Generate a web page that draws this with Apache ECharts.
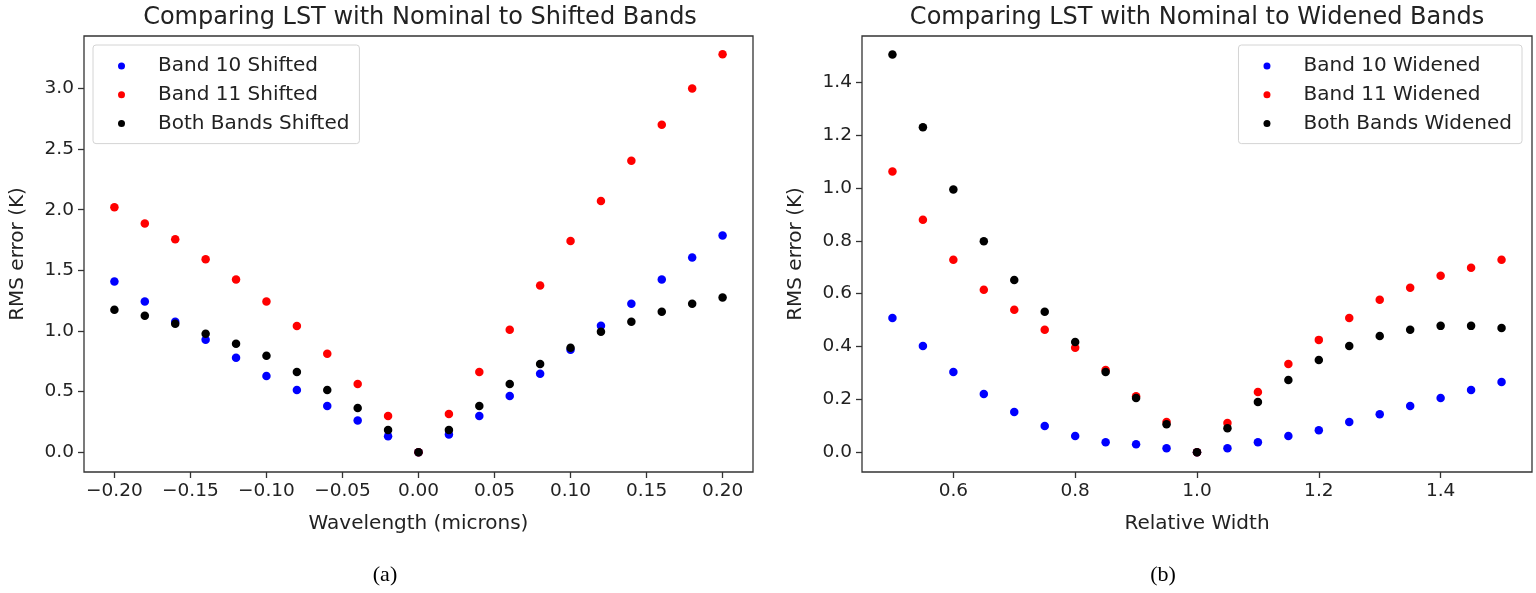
<!DOCTYPE html>
<html>
<head>
<meta charset="utf-8">
<script src="https://cdn.jsdelivr.net/npm/echarts@6/dist/echarts.min.js"></script>
<style>
  html, body { margin: 0; padding: 0; background: #fff; }
  #chart { width: 1536px; height: 593px; }
</style>
</head>
<body>
<div id="chart"></div>
<script>
// (a) band centre shifts, in microns
const shiftX = [-0.20, -0.18, -0.16, -0.14, -0.12, -0.10, -0.08, -0.06, -0.04, -0.02, 0.00,
                0.02, 0.04, 0.06, 0.08, 0.10, 0.12, 0.14, 0.16, 0.18, 0.20];
const band10Shifted = [1.407, 1.242, 1.076, 0.927, 0.778, 0.629, 0.513, 0.381, 0.262, 0.132, 0.0,
                       0.146, 0.298, 0.464, 0.646, 0.844, 1.043, 1.225, 1.424, 1.606, 1.788];
const band11Shifted = [2.020, 1.887, 1.757, 1.592, 1.425, 1.242, 1.040, 0.811, 0.563, 0.298, 0.0,
                       0.315, 0.662, 1.010, 1.374, 1.741, 2.072, 2.403, 2.701, 3.000, 3.283];
const bothShifted   = [1.175, 1.126, 1.060, 0.977, 0.894, 0.795, 0.662, 0.513, 0.364, 0.182, 0.0,
                       0.182, 0.381, 0.563, 0.728, 0.861, 0.993, 1.076, 1.159, 1.225, 1.275];

// (b) relative band widths
const widthX = [0.50, 0.55, 0.60, 0.65, 0.70, 0.75, 0.80, 0.85, 0.90, 0.95, 1.00,
                1.05, 1.10, 1.15, 1.20, 1.25, 1.30, 1.35, 1.40, 1.45, 1.50];
const band10Widened = [0.508, 0.402, 0.303, 0.220, 0.152, 0.099, 0.061, 0.038, 0.030, 0.015, 0.0,
                       0.015, 0.038, 0.061, 0.083, 0.114, 0.144, 0.175, 0.205, 0.235, 0.266];
const band11Widened = [1.062, 0.880, 0.728, 0.615, 0.539, 0.463, 0.395, 0.311, 0.212, 0.114, 0.0,
                       0.110, 0.228, 0.334, 0.425, 0.508, 0.577, 0.622, 0.668, 0.698, 0.728];
const bothWidened   = [1.505, 1.230, 0.994, 0.798, 0.652, 0.531, 0.417, 0.303, 0.205, 0.106, 0.0,
                       0.091, 0.190, 0.273, 0.349, 0.402, 0.440, 0.463, 0.478, 0.478, 0.470];

// tick positions
const shiftTicksX = [-0.20, -0.15, -0.10, -0.05, 0.00, 0.05, 0.10, 0.15, 0.20];
const shiftTicksY = [0.0, 0.5, 1.0, 1.5, 2.0, 2.5, 3.0];
const widthTicksX = [0.6, 0.8, 1.0, 1.2, 1.4];
const widthTicksY = [0.0, 0.2, 0.4, 0.6, 0.8, 1.0, 1.2, 1.4];

const FONT = 'DejaVu Sans';
const AXIS_COLOR = '#333';
const TICK_FS = 18.5;
const LABEL_FS = 20;

function pairs(xs, ys) { return xs.map((x, i) => [x, ys[i]]); }
function fmt(d) {
  return v => (v < 0 ? '\u2212' : '') + Math.abs(v).toFixed(d);
}

function valueAxis(gridIndex, min, max, ticks, decimals, name, extra) {
  return Object.assign({
    type: 'value', gridIndex, min, max,
    name, nameLocation: 'middle',
    nameTextStyle: { fontFamily: FONT, fontSize: LABEL_FS, color: '#222' },
    splitLine: { show: false },
    axisLine: { show: false, onZero: false },
    axisTick: { show: true, inside: false, length: 6, customValues: ticks,
                lineStyle: { color: AXIS_COLOR, width: 1.3 } },
    axisLabel: { customValues: ticks, formatter: fmt(decimals), margin: 10,
                 fontFamily: FONT, fontSize: TICK_FS, color: '#222' }
  }, extra || {});
}

function dots(name, color, xs, ys, idx) {
  return {
    type: 'scatter', name, xAxisIndex: idx, yAxisIndex: idx,
    data: pairs(xs, ys), symbol: 'circle', symbolSize: 8.5,
    itemStyle: { color, opacity: 1 },
    emphasis: { disabled: true }, animation: false
  };
}

function legendBox(names, pos) {
  return Object.assign({
    data: names, orient: 'vertical', top: 45,
    padding: [10, 10, 9, 25], itemGap: 6.8,
    itemWidth: 7, itemHeight: 7, icon: 'circle',
    backgroundColor: '#fff', borderColor: '#d4d4d4', borderWidth: 1, borderRadius: 3,
    textStyle: { fontFamily: FONT, fontSize: LABEL_FS, color: '#222', lineHeight: 22,
                 padding: [0, 0, 0, 28] },
    selectedMode: false
  }, pos);
}

const chart = echarts.init(document.getElementById('chart'));
chart.setOption({
  backgroundColor: '#fff',
  animation: false,
  grid: [
    { left: 84, top: 36, width: 669, height: 436, show: true,
      borderColor: AXIS_COLOR, borderWidth: 1.3, backgroundColor: '#fff' },
    { left: 862, top: 36, width: 670, height: 436, show: true,
      borderColor: AXIS_COLOR, borderWidth: 1.3, backgroundColor: '#fff' }
  ],
  xAxis: [
    valueAxis(0, -0.22, 0.22, shiftTicksX, 2, 'Wavelength (microns)', { nameGap: 42 }),
    valueAxis(1, 0.45, 1.55, widthTicksX, 1, 'Relative Width', { nameGap: 42 })
  ],
  yAxis: [
    valueAxis(0, -0.1635, 3.433, shiftTicksY, 1, 'RMS error (K)', { nameGap: 56, nameRotate: 90 }),
    valueAxis(1, -0.075, 1.575, widthTicksY, 1, 'RMS error (K)', { nameGap: 56, nameRotate: 90 })
  ],
  legend: [
    legendBox(['Band 10 Shifted', 'Band 11 Shifted', 'Both Bands Shifted'], { left: 93 }),
    legendBox(['Band 10 Widened', 'Band 11 Widened', 'Both Bands Widened'], { right: 14 })
  ],
  series: [
    dots('Band 10 Shifted', '#0000ff', shiftX, band10Shifted, 0),
    dots('Band 11 Shifted', '#ff0000', shiftX, band11Shifted, 0),
    dots('Both Bands Shifted', '#000000', shiftX, bothShifted, 0),
    dots('Band 10 Widened', '#0000ff', widthX, band10Widened, 1),
    dots('Band 11 Widened', '#ff0000', widthX, band11Widened, 1),
    dots('Both Bands Widened', '#000000', widthX, bothWidened, 1)
  ],
  graphic: [
    { type: 'text', x: 420, y: 18, silent: true,
      style: { text: 'Comparing LST with Nominal to Shifted Bands', fill: '#222',
               font: '24px "DejaVu Sans"', textAlign: 'center', textVerticalAlign: 'middle' } },
    { type: 'text', x: 1197, y: 18, silent: true,
      style: { text: 'Comparing LST with Nominal to Widened Bands', fill: '#222',
               font: '24px "DejaVu Sans"', textAlign: 'center', textVerticalAlign: 'middle' } },
    { type: 'text', x: 385, y: 575, silent: true,
      style: { text: '(a)', fill: '#000', font: '22px "Liberation Serif"',
               textAlign: 'center', textVerticalAlign: 'middle' } },
    { type: 'text', x: 1163, y: 575, silent: true,
      style: { text: '(b)', fill: '#000', font: '22px "Liberation Serif"',
               textAlign: 'center', textVerticalAlign: 'middle' } }
  ]
});
</script>
</body>
</html>
